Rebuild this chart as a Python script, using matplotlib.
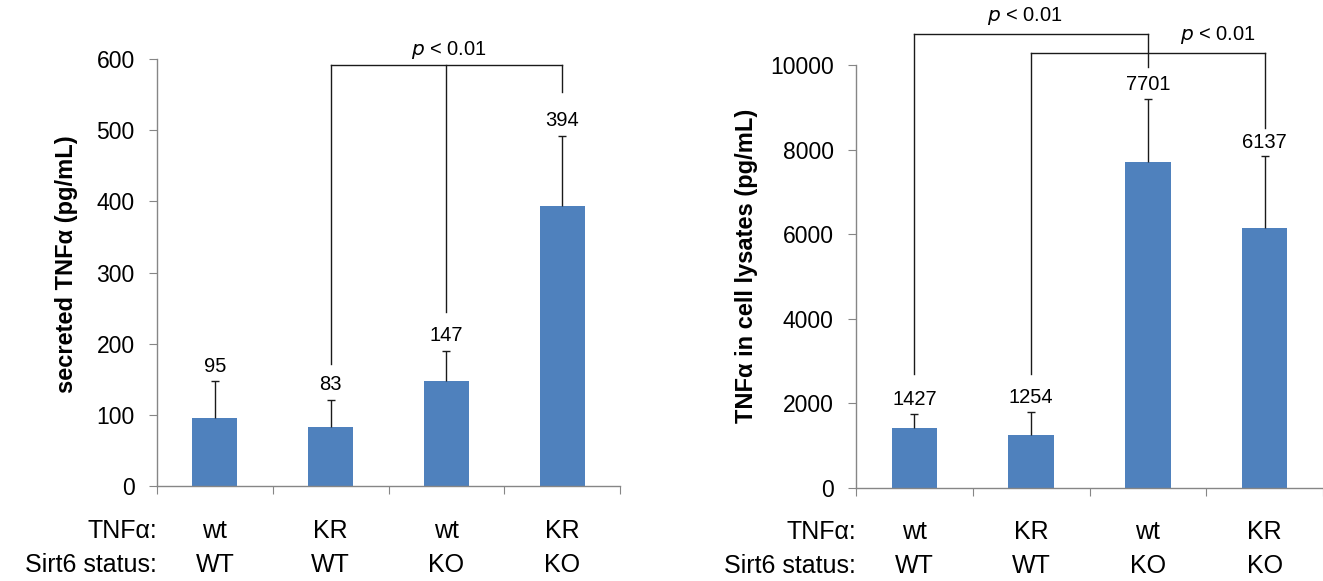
import matplotlib
matplotlib.use("Agg")
import matplotlib.pyplot as plt
import numpy as np

plt.rcParams['font.family'] = ['Liberation Sans', 'DejaVu Sans']

tnf_labels = ["wt", "KR", "wt", "KR"]
sirt6_labels = ["WT", "WT", "KO", "KO"]

secreted_vals = [95, 83, 147, 394]
secreted_err = [52, 38, 43, 98]
lysate_vals = [1427, 1254, 7701, 6137]
lysate_err = [330, 550, 1500, 1700]

BAR = "#4F81BD"
SPINE = "#868686"

fig = plt.figure(figsize=(13.23, 5.81), dpi=100)
W, H = 1323, 581

def make_ax(x0, x1, y0px, ytop):
    return fig.add_axes([x0 / W, 1 - y0px / H, (x1 - x0) / W, (y0px - ytop) / H])

ax1 = make_ax(157, 620, 486, 59)
ax2 = make_ax(856, 1323, 488, 65)

def style(ax, vals, err, ymax, ystep, ylabel, label_off, ylab_xy):
    x = np.arange(len(vals))
    ax.bar(x, vals, width=0.39, color=BAR, zorder=2)
    eb = ax.errorbar(x, vals, yerr=[np.zeros(len(err)), err], fmt='none',
                     ecolor='#1a1a1a', elinewidth=1.0, capsize=3, capthick=1.0, zorder=3)
    # hide the lower caps (only upper error bars in the original)
    eb[1][0].set_visible(False)
    for xi, v, e in zip(x, vals, err):
        ax.annotate(f"{v}", xy=(xi, v + e), xytext=(0, label_off), textcoords='offset points',
                    ha='center', va='center', fontsize=14.5)
    ax.set_xlim(-0.5, len(vals) - 0.5)
    ax.set_ylim(0, ymax)
    ax.set_yticks(np.arange(0, ymax + 1, ystep))
    ax.set_xticks(np.arange(-0.5, len(vals), 1.0))
    ax.set_xticklabels([])
    ax.tick_params(axis='x', length=6, color=SPINE, direction='out')
    ax.tick_params(axis='y', length=6, color=SPINE, direction='out', labelsize=16.5, pad=10)
    for s in ['top', 'right']:
        ax.spines[s].set_visible(False)
    for s in ['left', 'bottom']:
        ax.spines[s].set_color(SPINE)
        ax.spines[s].set_linewidth(1.0)
    fig.text(ylab_xy[0] / W, 1 - ylab_xy[1] / H, ylabel, rotation=90, ha='center',
             va='center', fontsize=17, fontweight='bold')
    # bottom category labels
    for xi in x:
        ax.text(xi, -0.105, tnf_labels[xi], transform=ax.get_xaxis_transform(),
                ha='center', va='center', fontsize=18)
        ax.text(xi, -0.185, sirt6_labels[xi], transform=ax.get_xaxis_transform(),
                ha='center', va='center', fontsize=18)
    ax.text(-0.5, -0.105, "TNFα:", transform=ax.get_xaxis_transform(),
            ha='right', va='center', fontsize=18)
    ax.text(-0.5, -0.185, "Sirt6 status:", transform=ax.get_xaxis_transform(),
            ha='right', va='center', fontsize=18)

style(ax1, secreted_vals, secreted_err, 600, 100, "secreted TNFα (pg/mL)", 11, (66, 264))
style(ax2, lysate_vals, lysate_err, 10000, 2000, "TNFα in cell lysates (pg/mL)", 10, (747, 266))

def bracket(ax, xs, bottoms, top, lx, ly):
    ax.plot([xs[0], xs[-1]], [top, top], color='#1a1a1a', lw=1.0, clip_on=False)
    for xi, b in zip(xs, bottoms):
        ax.plot([xi, xi], [b, top], color='#1a1a1a', lw=1.0, clip_on=False)
    ax.text(lx, ly, r"$\it{p}$ < 0.01", ha='center', va='center', fontsize=14.5, clip_on=False)

# left bracket: KR/WT & wt/KO vs KR/KO
bracket(ax1, [1, 2, 3], [171, 244, 553], 591, 2.02, 612)
# right brackets
bracket(ax2, [0, 2], [2695, 9956], 10726, 0.95, 11150)
bracket(ax2, [1, 3], [2695, 8513], 10289, 2.6, 10700)

fig.savefig("out.png", dpi=100)
